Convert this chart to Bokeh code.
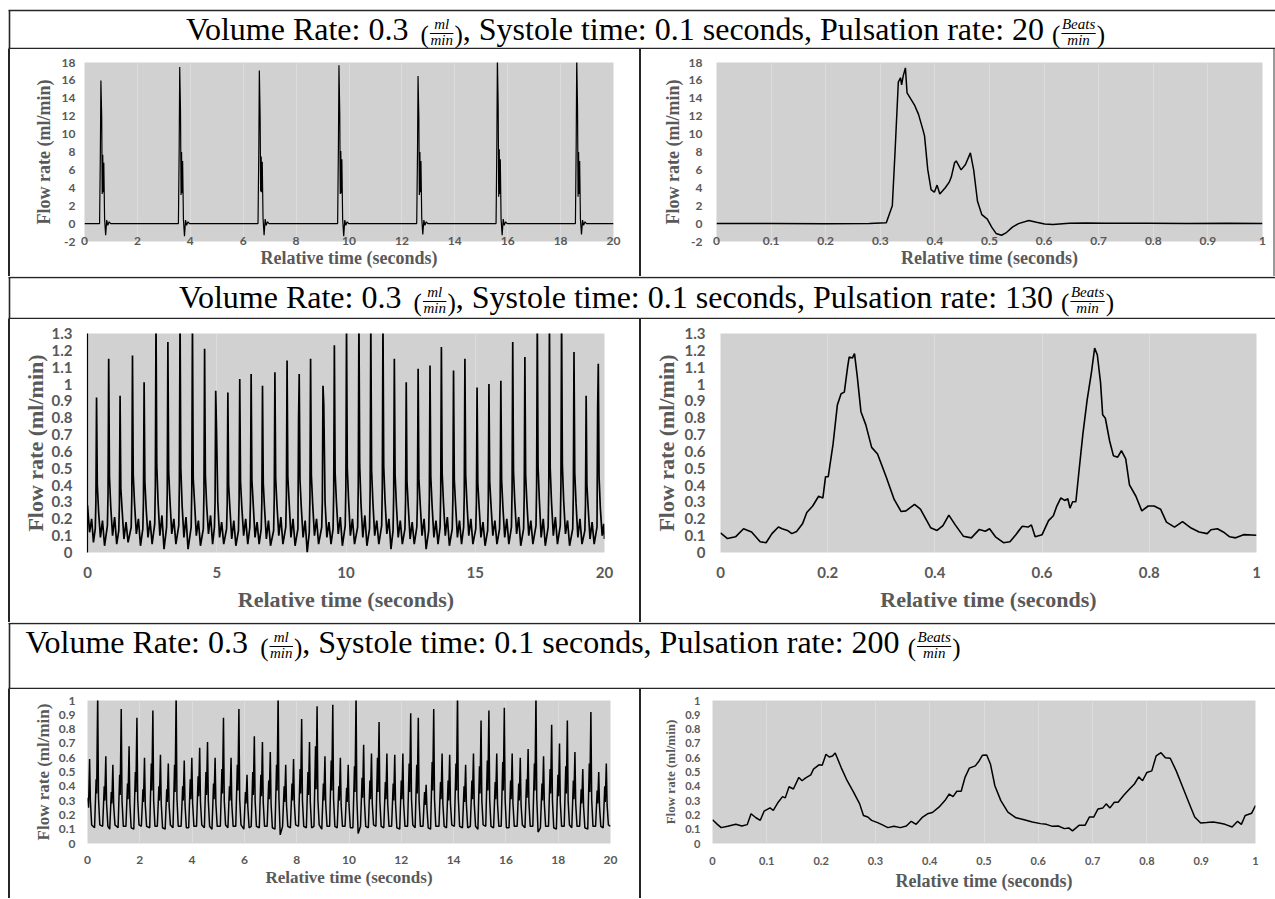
from bokeh.plotting import figure
from bokeh.layouts import column, row
from bokeh.models import Range1d, FixedTicker, NumeralTickFormatter, Div
from bokeh.embed import file_html
from bokeh.resources import INLINE
from bokeh.core.properties import value

# ------------------------------------------------------------------ data
# Row 1 (20 beats/min) - 20 s record
r1_left_t = [0.00,
    0.57, 0.60, 0.62, 0.65, 0.67, 0.69, 0.71, 0.73, 0.76, 0.80, 0.84, 0.88, 0.93, 0.99,
    3.55, 3.58, 3.60, 3.63, 3.65, 3.67, 3.69, 3.71, 3.74, 3.78, 3.82, 3.86, 3.91, 3.97,
    6.56, 6.59, 6.61, 6.64, 6.66, 6.68, 6.70, 6.72, 6.75, 6.79, 6.83, 6.87, 6.92, 6.98,
    9.57, 9.60, 9.62, 9.65, 9.67, 9.69, 9.71, 9.73, 9.76, 9.80, 9.84, 9.88, 9.93, 9.99,
    12.56, 12.59, 12.61, 12.64, 12.66, 12.68, 12.70, 12.72, 12.75, 12.79, 12.83, 12.87, 12.92, 12.98,
    15.56, 15.59, 15.61, 15.64, 15.66, 15.68, 15.70, 15.72, 15.75, 15.79, 15.83, 15.87, 15.92, 15.98,
    18.56, 18.59, 18.61, 18.64, 18.66, 18.68, 18.70, 18.72, 18.75, 18.79, 18.83, 18.87, 18.92, 18.98,
    20.00]
r1_left_v = [0.0,
    0.0, 8.0, 16.0, 12.0, 3.3, 7.7, 3.5, 6.8, 0.5, -1.3, 0.4, -0.2, 0.2, 0.0,
    0.0, 8.5, 17.5, 12.5, 3.2, 8.0, 3.4, 7.0, 0.5, -1.4, 0.4, -0.2, 0.2, 0.0,
    0.0, 8.2, 17.1, 12.0, 3.6, 7.5, 3.5, 6.9, 0.6, -1.3, 0.5, -0.2, 0.2, 0.0,
    0.0, 8.6, 17.7, 12.4, 3.3, 8.1, 3.4, 7.2, 0.5, -1.4, 0.4, -0.2, 0.2, 0.0,
    0.0, 8.0, 16.5, 12.0, 3.2, 8.0, 3.5, 7.0, 0.6, -1.2, 0.4, -0.2, 0.2, 0.0,
    0.0, 9.0, 18.6, 13.0, 3.0, 8.3, 3.3, 7.2, 0.5, -1.3, 0.5, -0.2, 0.2, 0.0,
    0.0, 9.0, 18.6, 13.0, 3.0, 8.0, 3.3, 7.0, 0.5, -1.2, 0.4, -0.2, 0.2, 0.0,
    0.0]

# Row 1 - one second detail
r1_right_t = [0.00, 0.10, 0.20, 0.28, 0.311, 0.322, 0.327, 0.333, 0.337, 0.339, 0.342, 0.346, 0.349,
    0.363, 0.370, 0.378, 0.381, 0.387, 0.393, 0.399, 0.404, 0.409, 0.419, 0.426, 0.430, 0.436, 0.439,
    0.448, 0.456, 0.465, 0.471, 0.478, 0.486, 0.496, 0.504, 0.512, 0.522, 0.531, 0.542, 0.553, 0.572,
    0.586, 0.601, 0.616, 0.646, 0.676, 0.713, 0.788, 0.862, 0.937, 1.000]
r1_right_v = [0.00, 0.00, -0.02, 0.00, 0.10, 2.0, 8.0, 15.8, 16.3, 15.5, 16.5, 17.4, 14.6,
    13.2, 12.2, 10.5, 9.8, 6.0, 3.8, 3.5, 4.3, 3.3, 4.0, 4.6, 5.2, 6.8, 7.0,
    6.0, 6.6, 7.9, 6.0, 2.5, 1.0, 0.5, -0.4, -1.1, -1.3, -1.0, -0.4, 0.0, 0.35,
    0.15, -0.05, -0.1, 0.05, 0.08, 0.03, 0.05, 0.0, 0.03, 0.0]

# Row 2 (130 beats/min) - 20 s record
r2_left_t = [0.00, 0.08, 0.16, 0.23,
    0.30, 0.325, 0.35, 0.38, 0.43, 0.50, 0.58, 0.66,
    0.77, 0.795, 0.82, 0.85, 0.90, 0.97, 1.05, 1.13,
    1.21, 1.235, 1.26, 1.29, 1.34, 1.41, 1.49, 1.57,
    1.69, 1.715, 1.74, 1.77, 1.82, 1.89, 1.97, 2.05,
    2.14, 2.165, 2.19, 2.22, 2.27, 2.34, 2.42, 2.50,
    2.60, 2.625, 2.65, 2.68, 2.73, 2.80, 2.88, 2.96,
    3.06, 3.085, 3.11, 3.14, 3.19, 3.26, 3.34, 3.42,
    3.53, 3.555, 3.58, 3.61, 3.66, 3.73, 3.81, 3.89,
    4.01, 4.035, 4.06, 4.09, 4.14, 4.21, 4.29, 4.37,
    4.48, 4.505, 4.53, 4.56, 4.61, 4.68, 4.76, 4.84,
    4.91, 4.935, 4.96, 4.99, 5.04, 5.11, 5.19, 5.27,
    5.38, 5.405, 5.43, 5.46, 5.51, 5.58, 5.66, 5.74,
    5.84, 5.865, 5.89, 5.92, 5.97, 6.04, 6.12, 6.20,
    6.28, 6.305, 6.33, 6.36, 6.41, 6.48, 6.56, 6.64,
    6.72, 6.745, 6.77, 6.80, 6.85, 6.92, 7.00, 7.08,
    7.20, 7.225, 7.25, 7.28, 7.33, 7.40, 7.48, 7.56,
    7.67, 7.695, 7.72, 7.75, 7.80, 7.87, 7.95, 8.03,
    8.14, 8.165, 8.19, 8.22, 8.27, 8.34, 8.42, 8.50,
    8.58, 8.605, 8.63, 8.66, 8.71, 8.78, 8.86, 8.94,
    9.06, 9.085, 9.11, 9.14, 9.19, 9.26, 9.34, 9.42,
    9.50, 9.525, 9.55, 9.58, 9.63, 9.70, 9.78, 9.86,
    9.97, 9.995, 10.02, 10.05, 10.10, 10.17, 10.25, 10.33,
    10.45, 10.475, 10.50, 10.53, 10.58, 10.65, 10.73, 10.81,
    10.91, 10.935, 10.96, 10.99, 11.04, 11.11, 11.19, 11.27,
    11.38, 11.405, 11.43, 11.46, 11.51, 11.58, 11.66, 11.74,
    11.82, 11.845, 11.87, 11.90, 11.95, 12.02, 12.10, 12.18,
    12.28, 12.305, 12.33, 12.36, 12.41, 12.48, 12.56, 12.64,
    12.74, 12.765, 12.79, 12.82, 12.87, 12.94, 13.02, 13.10,
    13.20, 13.225, 13.25, 13.28, 13.33, 13.40, 13.48, 13.56,
    13.64, 13.665, 13.69, 13.72, 13.77, 13.84, 13.92, 14.00,
    14.11, 14.135, 14.16, 14.19, 14.24, 14.31, 14.39, 14.47,
    14.55, 14.575, 14.60, 14.63, 14.68, 14.75, 14.83, 14.91,
    15.02, 15.045, 15.07, 15.10, 15.15, 15.22, 15.30, 15.38,
    15.48, 15.505, 15.53, 15.56, 15.61, 15.68, 15.76, 15.84,
    15.94, 15.965, 15.99, 16.02, 16.07, 16.14, 16.22, 16.30,
    16.40, 16.425, 16.45, 16.48, 16.53, 16.60, 16.68, 16.76,
    16.87, 16.895, 16.92, 16.95, 17.00, 17.07, 17.15, 17.23,
    17.35, 17.375, 17.40, 17.43, 17.48, 17.55, 17.63, 17.71,
    17.82, 17.845, 17.87, 17.90, 17.95, 18.02, 18.10, 18.18,
    18.29, 18.315, 18.34, 18.37, 18.42, 18.49, 18.57, 18.65,
    18.77, 18.795, 18.82, 18.85, 18.90, 18.97, 19.05, 19.13,
    19.24, 19.265, 19.29, 19.32, 19.37, 19.44, 19.52, 19.60,
    19.71, 19.735, 19.76, 19.79, 19.84, 19.91, 19.97, 20.00]
r2_left_v = [0.28, 0.12, 0.20, 0.06,
    0.14, 0.30, 0.92, 0.40, 0.24, 0.09, 0.19, 0.04,
    0.16, 0.35, 1.15, 0.45, 0.27, 0.10, 0.21, 0.05,
    0.13, 0.29, 0.93, 0.38, 0.25, 0.08, 0.18, 0.06,
    0.15, 0.34, 1.17, 0.46, 0.29, 0.11, 0.20, 0.04,
    0.14, 0.31, 1.01, 0.42, 0.26, 0.09, 0.19, 0.05,
    0.17, 0.40, 1.40, 0.52, 0.30, 0.10, 0.22, 0.02,
    0.15, 0.36, 1.25, 0.48, 0.31, 0.11, 0.20, 0.05,
    0.16, 0.41, 1.42, 0.50, 0.28, 0.09, 0.21, 0.02,
    0.15, 0.38, 1.38, 0.44, 0.30, 0.10, 0.19, 0.04,
    0.14, 0.35, 1.21, 0.46, 0.28, 0.11, 0.22, 0.05,
    0.15, 0.30, 0.96, 0.74, 0.30, 0.09, 0.18, 0.05,
    0.14, 0.29, 0.95, 0.40, 0.26, 0.08, 0.19, 0.04,
    0.13, 0.32, 1.03, 0.42, 0.27, 0.10, 0.20, 0.05,
    0.15, 0.31, 1.06, 0.43, 0.29, 0.09, 0.18, 0.05,
    0.14, 0.30, 0.99, 0.41, 0.26, 0.08, 0.19, 0.04,
    0.13, 0.33, 1.07, 0.44, 0.28, 0.10, 0.21, 0.05,
    0.15, 0.34, 1.14, 0.45, 0.30, 0.09, 0.20, 0.04,
    0.14, 0.78, 1.06, 0.43, 0.27, 0.09, 0.19, 0.00,
    0.12, 0.33, 1.15, 0.46, 0.29, 0.10, 0.20, 0.05,
    0.15, 0.30, 0.99, 0.88, 0.30, 0.09, 0.18, 0.05,
    0.14, 0.36, 1.23, 0.47, 0.30, 0.11, 0.21, 0.04,
    0.16, 0.39, 1.36, 0.50, 0.31, 0.10, 0.20, 0.05,
    0.15, 0.40, 1.41, 0.52, 0.29, 0.09, 0.22, 0.04,
    0.14, 0.38, 1.37, 0.49, 0.30, 0.10, 0.19, 0.05,
    0.16, 0.39, 1.39, 0.51, 0.31, 0.11, 0.20, 0.02,
    0.13, 0.34, 1.15, 0.46, 0.28, 0.09, 0.19, 0.05,
    0.14, 0.31, 1.01, 0.42, 0.27, 0.08, 0.18, 0.05,
    0.15, 0.32, 1.09, 0.44, 0.29, 0.10, 0.20, 0.02,
    0.13, 0.33, 1.11, 0.45, 0.28, 0.09, 0.19, 0.05,
    0.15, 0.36, 1.22, 0.47, 0.30, 0.10, 0.21, 0.04,
    0.14, 0.32, 1.08, 0.43, 0.28, 0.09, 0.19, 0.05,
    0.15, 0.34, 1.15, 0.46, 0.29, 0.10, 0.20, 0.05,
    0.14, 0.30, 0.98, 0.41, 0.27, 0.09, 0.18, 0.04,
    0.13, 0.31, 1.00, 0.42, 0.28, 0.10, 0.19, 0.05,
    0.14, 0.31, 1.02, 0.43, 0.27, 0.09, 0.20, 0.05,
    0.15, 0.37, 1.25, 0.48, 0.30, 0.11, 0.21, 0.04,
    0.14, 0.34, 1.16, 0.46, 0.29, 0.10, 0.19, 0.05,
    0.16, 0.40, 1.40, 0.51, 0.31, 0.09, 0.20, 0.04,
    0.15, 0.39, 1.38, 0.50, 0.30, 0.10, 0.21, 0.05,
    0.16, 0.41, 1.42, 0.52, 0.31, 0.11, 0.19, 0.04,
    0.14, 0.35, 1.19, 0.47, 0.29, 0.09, 0.20, 0.05,
    0.13, 0.29, 0.93, 0.40, 0.26, 0.08, 0.18, 0.05,
    0.15, 0.85, 1.12, 0.45, 0.26, 0.10, 0.17, 0.08]

# Row 2 - one second detail
r2_right_t = [0.000, 0.013, 0.028, 0.043, 0.058, 0.074, 0.085, 0.096, 0.108, 0.115,
    0.125, 0.133, 0.142, 0.153, 0.161, 0.172, 0.183, 0.191, 0.196, 0.201,
    0.210, 0.218, 0.225, 0.231, 0.237, 0.240, 0.246, 0.250, 0.255, 0.262,
    0.271, 0.282, 0.293, 0.309, 0.324, 0.337, 0.346, 0.362, 0.373, 0.392,
    0.404, 0.415, 0.426, 0.438, 0.453, 0.468, 0.483, 0.494, 0.502, 0.513,
    0.528, 0.540, 0.551, 0.563, 0.574, 0.580, 0.587, 0.600, 0.612, 0.621,
    0.627, 0.635, 0.642, 0.648, 0.652, 0.657, 0.663, 0.669, 0.676, 0.684,
    0.692, 0.698, 0.703, 0.709, 0.713, 0.718, 0.726, 0.733, 0.741, 0.748,
    0.756, 0.763, 0.775, 0.786, 0.798, 0.809, 0.821, 0.832, 0.847, 0.862,
    0.878, 0.893, 0.908, 0.915, 0.927, 0.938, 0.950, 0.961, 0.976, 1.000]
r2_right_v = [0.116, 0.083, 0.093, 0.141, 0.122, 0.064, 0.058, 0.112, 0.151, 0.141,
    0.131, 0.112, 0.125, 0.170, 0.237, 0.276, 0.334, 0.324, 0.450, 0.450,
    0.643, 0.875, 0.942, 0.952, 1.097, 1.160, 1.154, 1.180, 1.050, 0.836,
    0.759, 0.624, 0.585, 0.450, 0.315, 0.243, 0.247, 0.286, 0.257, 0.147,
    0.131, 0.160, 0.222, 0.164, 0.097, 0.087, 0.137, 0.126, 0.141, 0.093,
    0.058, 0.064, 0.106, 0.156, 0.151, 0.164, 0.093, 0.106, 0.189, 0.218,
    0.272, 0.324, 0.309, 0.319, 0.263, 0.301, 0.301, 0.488, 0.701, 0.904,
    1.068, 1.213, 1.174, 1.010, 0.817, 0.797, 0.662, 0.575, 0.566, 0.604,
    0.556, 0.402, 0.334, 0.247, 0.276, 0.276, 0.257, 0.180, 0.151, 0.183,
    0.145, 0.122, 0.112, 0.135, 0.141, 0.122, 0.093, 0.087, 0.106, 0.102]

# Row 3 (200 beats/min) - 20 s record
r3_left_t = [0.00, 0.04, 0.08, 0.11, 0.16,
    0.27, 0.33, 0.35, 0.39, 0.42, 0.47,
    0.58, 0.64, 0.66, 0.70, 0.73, 0.78,
    0.85, 0.91, 0.93, 0.97, 1.00, 1.05,
    1.17, 1.23, 1.25, 1.29, 1.32, 1.37,
    1.47, 1.53, 1.55, 1.59, 1.62, 1.67,
    1.77, 1.83, 1.85, 1.89, 1.92, 1.97,
    2.06, 2.12, 2.14, 2.18, 2.21, 2.26,
    2.38, 2.44, 2.46, 2.50, 2.53, 2.58,
    2.67, 2.73, 2.75, 2.79, 2.82, 2.87,
    2.97, 3.03, 3.05, 3.09, 3.12, 3.17,
    3.27, 3.33, 3.35, 3.39, 3.42, 3.47,
    3.58, 3.64, 3.66, 3.70, 3.73, 3.78,
    3.87, 3.93, 3.95, 3.99, 4.02, 4.07,
    4.17, 4.23, 4.25, 4.29, 4.32, 4.37,
    4.47, 4.53, 4.55, 4.59, 4.62, 4.67,
    4.76, 4.82, 4.84, 4.88, 4.91, 4.96,
    5.08, 5.14, 5.16, 5.20, 5.23, 5.28,
    5.37, 5.43, 5.45, 5.49, 5.52, 5.57,
    5.67, 5.73, 5.75, 5.79, 5.82, 5.87,
    5.98, 6.04, 6.06, 6.10, 6.13, 6.18,
    6.26, 6.32, 6.34, 6.38, 6.41, 6.46,
    6.57, 6.63, 6.65, 6.69, 6.72, 6.77,
    6.87, 6.93, 6.95, 6.99, 7.02, 7.07,
    7.17, 7.23, 7.25, 7.29, 7.32, 7.37,
    7.46, 7.52, 7.54, 7.58, 7.61, 7.66,
    7.76, 7.82, 7.84, 7.88, 7.91, 7.96,
    8.07, 8.13, 8.15, 8.19, 8.22, 8.27,
    8.37, 8.43, 8.45, 8.49, 8.52, 8.57,
    8.66, 8.72, 8.74, 8.78, 8.81, 8.86,
    8.96, 9.02, 9.04, 9.08, 9.11, 9.16,
    9.26, 9.32, 9.34, 9.38, 9.41, 9.46,
    9.55, 9.61, 9.63, 9.67, 9.70, 9.75,
    9.85, 9.91, 9.93, 9.97, 10.00, 10.05,
    10.15, 10.21, 10.23, 10.27, 10.30, 10.35,
    10.44, 10.50, 10.52, 10.56, 10.59, 10.64,
    10.74, 10.80, 10.82, 10.86, 10.89, 10.94,
    11.03, 11.09, 11.11, 11.15, 11.18, 11.23,
    11.33, 11.39, 11.41, 11.45, 11.48, 11.53,
    11.63, 11.69, 11.71, 11.75, 11.78, 11.83,
    11.94, 12.00, 12.02, 12.06, 12.09, 12.14,
    12.24, 12.30, 12.32, 12.36, 12.39, 12.44,
    12.53, 12.59, 12.61, 12.65, 12.68, 12.73,
    12.83, 12.89, 12.91, 12.95, 12.98, 13.03,
    13.12, 13.18, 13.20, 13.24, 13.27, 13.32,
    13.44, 13.50, 13.52, 13.56, 13.59, 13.64,
    13.73, 13.79, 13.81, 13.85, 13.88, 13.93,
    14.03, 14.09, 14.11, 14.15, 14.18, 14.23,
    14.34, 14.40, 14.42, 14.46, 14.49, 14.54,
    14.64, 14.70, 14.72, 14.76, 14.79, 14.84,
    14.93, 14.99, 15.01, 15.05, 15.08, 15.13,
    15.23, 15.29, 15.31, 15.35, 15.38, 15.43,
    15.53, 15.59, 15.61, 15.65, 15.68, 15.73,
    15.82, 15.88, 15.90, 15.94, 15.97, 16.02,
    16.12, 16.18, 16.20, 16.24, 16.27, 16.32,
    16.43, 16.49, 16.51, 16.55, 16.58, 16.63,
    16.73, 16.79, 16.81, 16.85, 16.88, 16.93,
    17.03, 17.09, 17.11, 17.15, 17.18, 17.23,
    17.32, 17.38, 17.40, 17.44, 17.47, 17.52,
    17.63, 17.69, 17.71, 17.75, 17.78, 17.83,
    17.93, 17.99, 18.01, 18.05, 18.08, 18.13,
    18.23, 18.29, 18.31, 18.35, 18.38, 18.43,
    18.52, 18.58, 18.60, 18.64, 18.67, 18.72,
    18.82, 18.88, 18.90, 18.94, 18.97, 19.02,
    19.13, 19.19, 19.21, 19.25, 19.28, 19.33,
    19.43, 19.49, 19.51, 19.55, 19.58, 19.63,
    19.72, 19.78, 19.80, 19.84, 19.87, 19.92,
    20.00]
r3_left_v = [0.32, 0.25, 0.59, 0.30, 0.13,
    0.11, 0.45, 0.35, 1.05, 0.32, 0.13,
    0.12, 0.40, 0.30, 0.61, 0.28, 0.12,
    0.10, 0.36, 0.28, 0.55, 0.27, 0.13,
    0.11, 0.48, 0.34, 0.94, 0.30, 0.12,
    0.12, 0.42, 0.31, 0.68, 0.28, 0.11,
    0.10, 0.50, 0.36, 0.88, 0.31, 0.13,
    0.12, 0.38, 0.29, 0.60, 0.27, 0.12,
    0.11, 0.56, 0.37, 0.93, 0.30, 0.12,
    0.12, 0.40, 0.30, 0.62, 0.28, 0.11,
    0.10, 0.38, 0.29, 0.56, 0.27, 0.13,
    0.11, 0.55, 0.36, 1.05, 0.32, 0.12,
    0.12, 0.40, 0.30, 0.58, 0.27, 0.11,
    0.11, 0.45, 0.31, 0.60, 0.28, 0.12,
    0.12, 0.47, 0.33, 0.67, 0.29, 0.13,
    0.11, 0.50, 0.34, 0.71, 0.30, 0.12,
    0.10, 0.42, 0.31, 0.60, 0.28, 0.12,
    0.12, 0.52, 0.35, 0.88, 0.30, 0.13,
    0.11, 0.40, 0.30, 0.60, 0.27, 0.12,
    0.12, 0.55, 0.37, 0.94, 0.31, 0.13,
    0.10, 0.36, 0.28, 0.48, 0.26, 0.11,
    0.12, 0.50, 0.34, 0.75, 0.30, 0.12,
    0.11, 0.48, 0.33, 0.71, 0.29, 0.12,
    0.12, 0.44, 0.31, 0.64, 0.28, 0.11,
    0.10, 0.55, 0.37, 1.05, 0.32, 0.06,
    0.12, 0.40, 0.29, 0.55, 0.27, 0.12,
    0.11, 0.42, 0.30, 0.59, 0.28, 0.13,
    0.12, 0.52, 0.35, 0.87, 0.30, 0.12,
    0.11, 0.50, 0.34, 0.71, 0.29, 0.11,
    0.12, 0.68, 0.38, 0.96, 0.31, 0.13,
    0.10, 0.42, 0.30, 0.61, 0.28, 0.12,
    0.12, 0.58, 0.37, 0.97, 0.31, 0.12,
    0.11, 0.40, 0.30, 0.60, 0.27, 0.12,
    0.12, 0.39, 0.29, 0.55, 0.27, 0.11,
    0.11, 0.54, 0.36, 1.05, 0.32, 0.07,
    0.12, 0.46, 0.32, 0.69, 0.29, 0.12,
    0.11, 0.44, 0.31, 0.63, 0.28, 0.13,
    0.12, 0.60, 0.36, 0.85, 0.30, 0.12,
    0.11, 0.43, 0.31, 0.63, 0.28, 0.12,
    0.12, 0.42, 0.30, 0.62, 0.28, 0.11,
    0.10, 0.44, 0.31, 0.63, 0.28, 0.12,
    0.12, 0.56, 0.36, 0.91, 0.31, 0.13,
    0.11, 0.55, 0.35, 0.88, 0.30, 0.12,
    0.12, 0.36, 0.27, 0.41, 0.25, 0.11,
    0.10, 0.57, 0.37, 0.94, 0.31, 0.12,
    0.12, 0.43, 0.31, 0.63, 0.28, 0.12,
    0.11, 0.44, 0.30, 0.62, 0.28, 0.13,
    0.12, 0.56, 0.37, 1.05, 0.32, 0.12,
    0.11, 0.40, 0.29, 0.55, 0.27, 0.11,
    0.12, 0.44, 0.31, 0.63, 0.28, 0.12,
    0.10, 0.54, 0.35, 0.86, 0.30, 0.13,
    0.12, 0.58, 0.37, 0.93, 0.31, 0.12,
    0.11, 0.43, 0.31, 0.63, 0.28, 0.12,
    0.12, 0.57, 0.37, 0.95, 0.31, 0.11,
    0.11, 0.44, 0.31, 0.63, 0.28, 0.12,
    0.12, 0.42, 0.30, 0.60, 0.27, 0.13,
    0.11, 0.45, 0.32, 0.66, 0.29, 0.12,
    0.12, 0.56, 0.37, 1.05, 0.32, 0.08,
    0.11, 0.42, 0.30, 0.61, 0.28, 0.12,
    0.12, 0.52, 0.35, 0.83, 0.30, 0.11,
    0.10, 0.48, 0.33, 0.70, 0.29, 0.12,
    0.12, 0.54, 0.35, 0.86, 0.30, 0.13,
    0.11, 0.44, 0.31, 0.64, 0.28, 0.12,
    0.12, 0.38, 0.28, 0.52, 0.26, 0.11,
    0.10, 0.56, 0.36, 0.92, 0.31, 0.12,
    0.12, 0.37, 0.28, 0.50, 0.26, 0.12,
    0.11, 0.40, 0.29, 0.56, 0.27, 0.13,
    0.12]

# Row 3 - one second detail
r3_right_t = [0.000, 0.009, 0.016, 0.028, 0.043, 0.054, 0.064, 0.071, 0.080, 0.088,
    0.095, 0.106, 0.112, 0.121, 0.129, 0.134, 0.141, 0.149, 0.159, 0.165,
    0.171, 0.181, 0.186, 0.196, 0.202, 0.209, 0.215, 0.221, 0.226, 0.237,
    0.248, 0.260, 0.271, 0.278, 0.286, 0.293, 0.304, 0.312, 0.323, 0.334,
    0.346, 0.357, 0.366, 0.375, 0.387, 0.396, 0.405, 0.417, 0.428, 0.436,
    0.443, 0.450, 0.458, 0.465, 0.473, 0.484, 0.491, 0.497, 0.505, 0.512,
    0.520, 0.531, 0.544, 0.559, 0.574, 0.589, 0.604, 0.615, 0.626, 0.637,
    0.648, 0.656, 0.663, 0.675, 0.686, 0.694, 0.702, 0.710, 0.719, 0.725,
    0.732, 0.740, 0.747, 0.757, 0.768, 0.777, 0.785, 0.792, 0.800, 0.809,
    0.817, 0.826, 0.834, 0.843, 0.854, 0.866, 0.877, 0.888, 0.899, 0.910,
    0.922, 0.933, 0.944, 0.957, 0.967, 0.974, 0.981, 0.993, 1.000]
r3_right_v = [0.166, 0.134, 0.111, 0.120, 0.134, 0.122, 0.132, 0.208, 0.180, 0.162,
    0.226, 0.249, 0.231, 0.289, 0.328, 0.319, 0.397, 0.381, 0.462, 0.439,
    0.457, 0.480, 0.520, 0.550, 0.547, 0.624, 0.605, 0.612, 0.633, 0.531,
    0.439, 0.358, 0.277, 0.196, 0.185, 0.162, 0.146, 0.132, 0.111, 0.120,
    0.111, 0.122, 0.155, 0.134, 0.185, 0.208, 0.217, 0.254, 0.300, 0.346,
    0.328, 0.365, 0.365, 0.462, 0.527, 0.543, 0.577, 0.617, 0.619, 0.554,
    0.404, 0.300, 0.219, 0.180, 0.166, 0.150, 0.139, 0.134, 0.120, 0.122,
    0.104, 0.109, 0.088, 0.127, 0.127, 0.185, 0.185, 0.242, 0.249, 0.277,
    0.249, 0.289, 0.289, 0.335, 0.381, 0.416, 0.466, 0.439, 0.497, 0.508,
    0.612, 0.635, 0.600, 0.596, 0.508, 0.393, 0.289, 0.185, 0.143, 0.146,
    0.150, 0.143, 0.134, 0.115, 0.155, 0.134, 0.196, 0.212, 0.266]

# ticks
ticks_20s_2 = [0, 2, 4, 6, 8, 10, 12, 14, 16, 18, 20]
ticks_20s_5 = [0, 5, 10, 15, 20]
ticks_1s_01 = [0, 0.1, 0.2, 0.3, 0.4, 0.5, 0.6, 0.7, 0.8, 0.9, 1]
ticks_1s_02 = [0, 0.2, 0.4, 0.6, 0.8, 1]
ticks_flow_18 = [-2, 0, 2, 4, 6, 8, 10, 12, 14, 16, 18]
ticks_flow_13 = [0, 0.1, 0.2, 0.3, 0.4, 0.5, 0.6, 0.7, 0.8, 0.9, 1, 1.1, 1.2, 1.3]
ticks_flow_10 = [0, 0.1, 0.2, 0.3, 0.4, 0.5, 0.6, 0.7, 0.8, 0.9, 1]

pulsation_rates = ["20", "130", "200"]
x_title = "Relative time (seconds)"
y_title = "Flow rate (ml/min)"

# ------------------------------------------------------------------ style
W = 1275
LEFT_W, RIGHT_W = 629, 634
PLOT_BG = "#d2d1d1"
GRID_C = "#dcdcdc"
LABEL_C = "#595959"
TABLE_C = "#262626"

SERIF_W = {' ': 250, '.': 250, ',': 250, ':': 278, '(': 333, ')': 333, '/': 278,
           '0': 500, '1': 500, '2': 500, '3': 500, '4': 500, '5': 500, '6': 500,
           '7': 500, '8': 500, '9': 500,
           'a': 444, 'b': 500, 'c': 444, 'd': 500, 'e': 444, 'f': 333, 'g': 500,
           'h': 500, 'i': 278, 'j': 278, 'k': 500, 'l': 278, 'm': 778, 'n': 500,
           'o': 500, 'p': 500, 'q': 500, 'r': 333, 's': 389, 't': 278, 'u': 500,
           'v': 500, 'w': 722, 'x': 500, 'y': 500, 'z': 444,
           'P': 556, 'R': 667, 'S': 556, 'V': 722, 'B': 667}
ITAL_W = {'a': 500, 'e': 444, 'i': 278, 'l': 278, 'm': 722, 'n': 500, 's': 389,
          't': 278, 'B': 611}
MID = 0.345   # em-centre offset used by the svg text placement


def tw(s, size, table):
    return sum(table[c] for c in s) * size / 1000.0


def make_header(h, line_top, line_bot, baseline, rate, center=None, left=None):
    p = figure(width=W, height=h, x_range=Range1d(0, W), y_range=Range1d(h, 0),
               toolbar_location=None, output_backend="svg", min_border=0, title=None,
               outline_line_color=None, x_axis_location=None, y_axis_location=None,
               background_fill_color="white", border_fill_color="white")
    p.grid.visible = False
    F, PAR, FR = 32, 25, 15
    part1 = "Volume Rate: 0.3 "
    part2 = ", Systole time: 0.1 seconds, Pulsation rate: " + rate + " "
    fw1 = max(tw("ml", FR, ITAL_W), tw("min", FR, ITAL_W)) + 3
    fw2 = max(tw("Beats", FR, ITAL_W), tw("min", FR, ITAL_W)) + 3
    pw = tw("(", PAR, SERIF_W)
    total = tw(part1, F, SERIF_W) + tw(part2, F, SERIF_W) + 4 * pw + fw1 + fw2
    x = center - total / 2 if center is not None else left
    big_x, big_t, par_x, par_t = [], [], [], []
    num_x, num_t, den_x, bar0, bar1 = [], [], [], [], []
    big_x.append(x); big_t.append(part1); x += tw(part1, F, SERIF_W)
    par_x.append(x); par_t.append("("); x += pw
    num_x.append(x + fw1 / 2); num_t.append("ml"); den_x.append(x + fw1 / 2)
    bar0.append(x + 1); bar1.append(x + fw1 - 1); x += fw1
    par_x.append(x); par_t.append(")"); x += pw
    big_x.append(x); big_t.append(part2); x += tw(part2, F, SERIF_W)
    par_x.append(x); par_t.append("("); x += pw
    num_x.append(x + fw2 / 2); num_t.append("Beats"); den_x.append(x + fw2 / 2)
    bar0.append(x + 1); bar1.append(x + fw2 - 1); x += fw2
    par_x.append(x); par_t.append(")")

    serif = value("Liberation Serif")
    p.text(x=big_x, y=[baseline - MID * F] * 2, text=big_t, text_font=serif,
           text_font_size=f"{F}px", text_baseline="alphabetic", text_align="left",
           text_color="black")
    p.text(x=par_x, y=[baseline + 3 - MID * PAR] * 4, text=par_t, text_font=serif,
           text_font_size=f"{PAR}px", text_baseline="alphabetic", text_align="left",
           text_color="black")
    p.text(x=num_x, y=[baseline - 11 - MID * FR] * 2, text=num_t, text_font=serif,
           text_font_style="italic", text_font_size=f"{FR}px",
           text_baseline="alphabetic", text_align="center", text_color="black")
    p.text(x=den_x, y=[baseline + 5 - MID * FR] * 2, text=["min", "min"], text_font=serif,
           text_font_style="italic", text_font_size=f"{FR}px",
           text_baseline="alphabetic", text_align="center", text_color="black")
    p.segment(x0=bar0, y0=[baseline - 7] * 2, x1=bar1, y1=[baseline - 7] * 2,
              line_color="black", line_width=1)
    # table rules
    p.segment(x0=[8, 8, 9], y0=[line_top, line_bot, line_top], x1=[W, W, 9], y1=[line_top, line_bot, h],
              line_color=TABLE_C, line_width=1.6)
    return p


def make_panel(w, h, borders, xr, yr, xt, yt, t, v, tick_fs, xt_fs, yt_fs,
               x_std, x_lstd, y_std, y_lstd, lw=1.5, y_axis_line=False):
    bl, br, bt, bb = borders
    p = figure(width=w, height=h, x_range=Range1d(*xr), y_range=Range1d(*yr),
               toolbar_location=None, output_backend="svg", title=None,
               min_border_left=bl, min_border_right=br, min_border_top=bt,
               min_border_bottom=bb, background_fill_color=PLOT_BG,
               border_fill_color="white", outline_line_color=None)
    p.line(t, v, line_color="black", line_width=lw)
    p.xaxis.ticker = FixedTicker(ticks=xt)
    p.yaxis.ticker = FixedTicker(ticks=yt)
    for ax in (p.xaxis[0], p.yaxis[0]):
        ax.formatter = NumeralTickFormatter(format="0.[0]")
        ax.axis_line_color = None
        ax.major_tick_line_color = None
        ax.minor_tick_line_color = None
        ax.major_tick_out = 0
        ax.major_tick_in = 0
        ax.major_label_text_font = "Lato"
        ax.major_label_text_font_style = "bold"
        ax.major_label_text_color = LABEL_C
        ax.major_label_text_font_size = f"{tick_fs}px"
        ax.axis_label_text_font = "Liberation Serif"
        ax.axis_label_text_font_style = "bold"
        ax.axis_label_text_color = LABEL_C
    xa, ya = p.xaxis[0], p.yaxis[0]
    xa.axis_label = x_title
    ya.axis_label = y_title
    xa.axis_label_text_font_size = f"{xt_fs}px"
    ya.axis_label_text_font_size = f"{yt_fs}px"
    xa.major_label_standoff = x_std
    xa.axis_label_standoff = x_lstd
    ya.major_label_standoff = y_std
    ya.axis_label_standoff = y_lstd
    if y_axis_line:
        ya.axis_line_color = "black"
        ya.axis_line_width = 1.2
    p.xgrid.grid_line_color = GRID_C
    p.xgrid.grid_line_width = 1
    p.ygrid.grid_line_color = None
    return p


def vrule(h, color=TABLE_C):
    return Div(text="", width=2, height=h, margin=0,
               styles={"background-color": color})


def gap(h):
    return Div(text="", width=8, height=h, margin=0)


H1 = make_header(49, 10, 48, 40, pulsation_rates[0], center=645)
A = make_panel(LEFT_W, 227, (74, 26, 13, 35), (0, 20), (-2, 18), ticks_20s_2, ticks_flow_18,
               r1_left_t, r1_left_v, 12, 18, 18, -5, 0, 9, 5, lw=1.2)
B = make_panel(RIGHT_W - 2, 227, (75, 11, 13, 35), (0, 1), (-2, 18), ticks_1s_01, ticks_flow_18,
               r1_right_t, r1_right_v, 12, 18, 18, -5, 0, 14, 3, lw=1.5)
H2 = make_header(43, 1, 42, 32, pulsation_rates[1], center=646)
C = make_panel(LEFT_W, 303, (77, 35, 14, 70), (0, 20), (0, 1.3), ticks_20s_5, ticks_flow_13,
               r2_left_t, r2_left_v, 15, 22, 22, 14, 6, 15, 1, lw=1.7, y_axis_line=True)
D = make_panel(RIGHT_W, 303, (79, 19, 14, 70), (0, 1), (0, 1.3), ticks_1s_02, ticks_flow_13,
               r2_right_t, r2_right_v, 15, 22, 22, 14, 6, 15, 3, lw=1.6)
H3 = make_header(67, 1, 66, 31, pulsation_rates[2], left=25)
E = make_panel(LEFT_W, 209, (77, 29, 10, 50), (0, 20), (0, 1), ticks_20s_2, ticks_flow_10,
               r3_left_t, r3_left_v, 12, 17, 17, 12, 1, 12, 3, lw=1.5)
F = make_panel(RIGHT_W, 209, (71, 20, 11, 55), (0, 1), (0, 1), ticks_1s_01, ticks_flow_10,
               r3_right_t, r3_right_v, 11, 18, 13, 13, 3, 12, 4, lw=1.5)

layout = column(
    H1,
    row(gap(227), vrule(227), A, vrule(227), B, vrule(227, "#9a9a9a")),
    H2,
    row(gap(303), vrule(303), C, vrule(303), D),
    H3,
    row(gap(209), vrule(209), E, vrule(209), F),
)

open("out.html", "w").write(file_html(layout, INLINE))
